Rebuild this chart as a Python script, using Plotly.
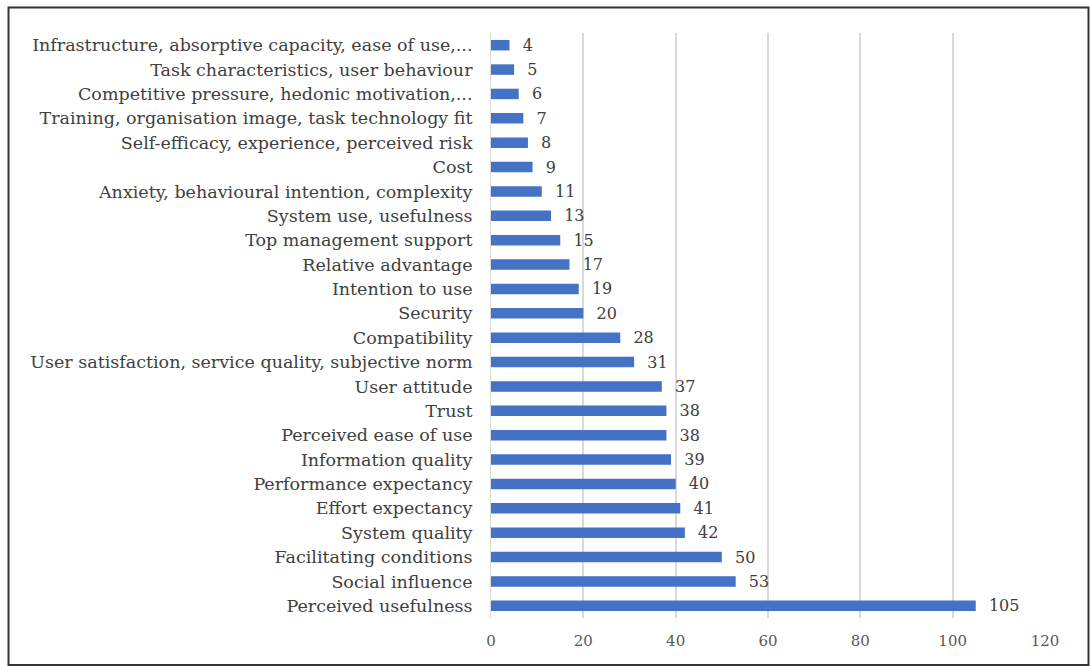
import plotly.graph_objects as go

categories = [
    "Perceived usefulness",
    "Social influence",
    "Facilitating conditions",
    "System quality",
    "Effort expectancy",
    "Performance expectancy",
    "Information quality",
    "Perceived ease of use",
    "Trust",
    "User attitude",
    "User satisfaction, service quality, subjective norm",
    "Compatibility",
    "Security",
    "Intention to use",
    "Relative advantage",
    "Top management support",
    "System use, usefulness",
    "Anxiety, behavioural intention, complexity",
    "Cost",
    "Self-efficacy, experience, perceived risk",
    "Training, organisation image, task technology fit",
    "Competitive pressure, hedonic motivation,...",
    "Task characteristics, user behaviour",
    "Infrastructure, absorptive capacity, ease of use,...",
]
values = [105, 53, 50, 42, 41, 40, 39, 38, 38, 37, 31, 28, 20, 19, 17, 15, 13, 11, 9, 8, 7, 6, 5, 4]
x_ticks = [0, 20, 40, 60, 80, 100, 120]

W, H = 1090, 666
ML, MR, MT, MB = 491, 45, 33, 48
pw, ph = W - ML - MR, H - MT - MB

font_family = "DejaVu Serif, Liberation Serif, serif"

fig = go.Figure(
    go.Bar(
        y=categories,
        x=values,
        orientation="h",
        marker=dict(color="#4472C4", line=dict(width=0)),
        width=0.43,
        text=values,
        texttemplate="  %{x}",
        textposition="outside",
        constraintext="none",
        textfont=dict(family=font_family, size=16, color="#404040"),
        cliponaxis=False,
    )
)

def px_x(p):
    return (p - ML) / pw

def px_y(p):
    return (H - MB - p) / ph

fig.add_shape(
    type="rect", xref="paper", yref="paper",
    x0=px_x(8.5), x1=px_x(1088.5), y0=px_y(665), y1=px_y(7.5),
    line=dict(color="#333333", width=2), fillcolor="rgba(0,0,0,0)", layer="above",
)

fig.update_layout(
    width=W, height=H,
    margin=dict(l=ML, r=MR, t=MT, b=MB),
    paper_bgcolor="white", plot_bgcolor="white",
    showlegend=False,
    font=dict(family=font_family, size=16, color="#404040"),
    xaxis=dict(
        range=[0, 120], tickvals=x_ticks, showgrid=True, gridcolor="#d9d9d9", gridwidth=1.5,
        zeroline=False, showline=False, ticks="",
        ticklabelstandoff=12,
        tickfont=dict(family=font_family, size=15, color="#595959"),
        fixedrange=True,
    ),
    yaxis=dict(
        categoryorder="array", categoryarray=categories,
        showgrid=False, zeroline=False, showline=True, linecolor="#d9d9d9", ticks="",
        ticklabelstandoff=14,
        tickfont=dict(family=font_family, size=17.5, color="#404040"),
        fixedrange=True,
    ),
)

fig.write_html("out.html")
